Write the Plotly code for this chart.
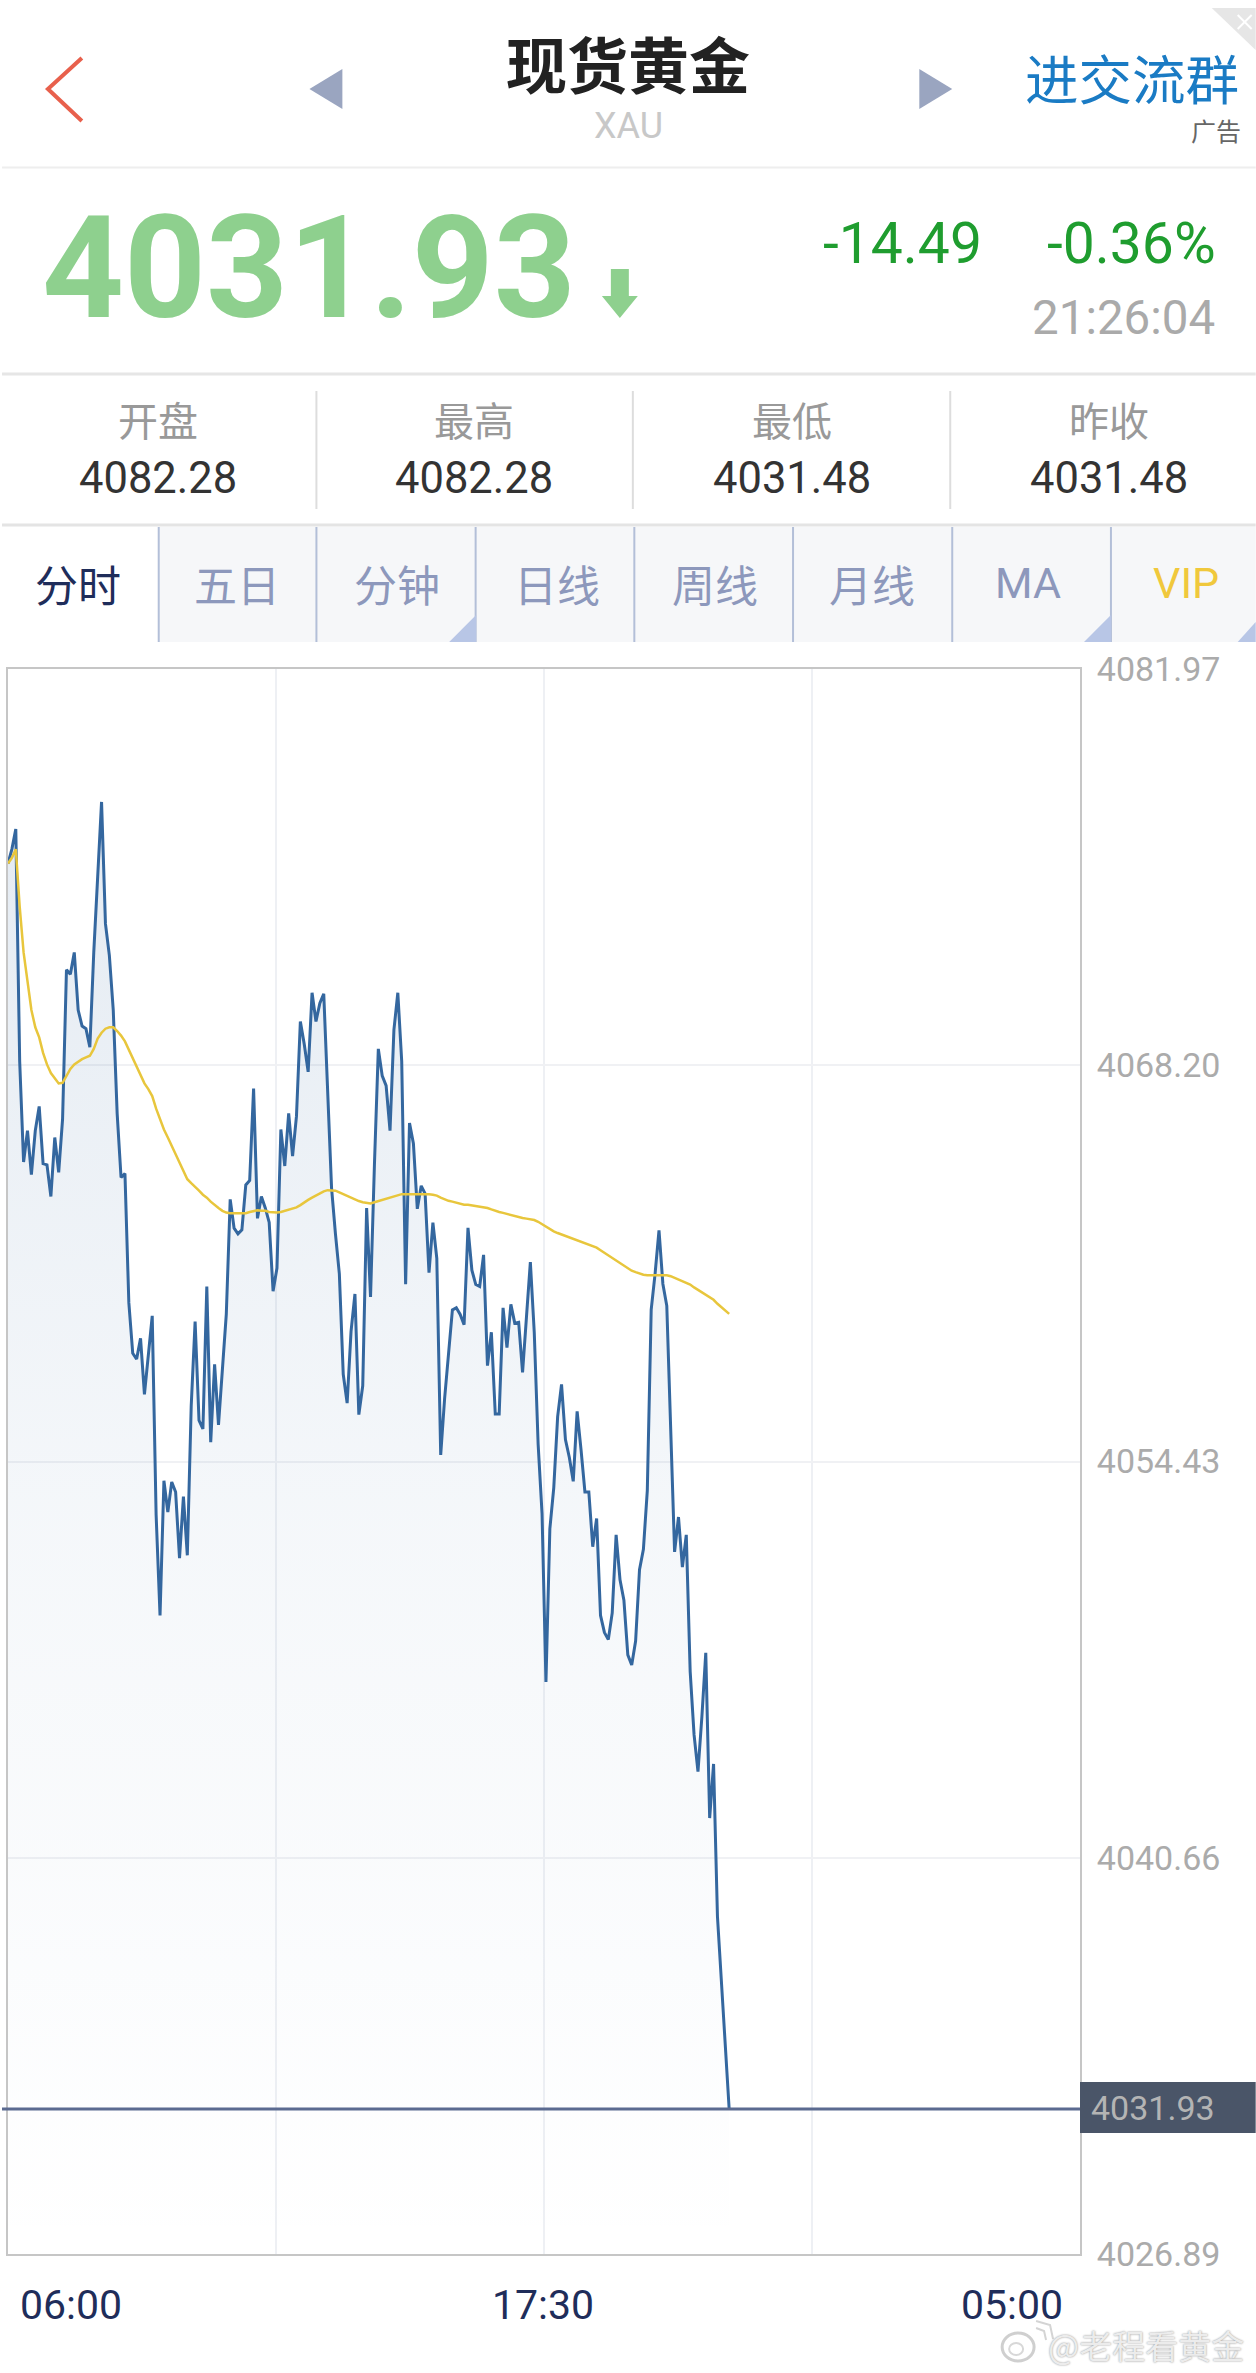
# Spot gold intraday screen: app header, quote panel, tabs and the price chart below them.

import plotly.graph_objects as go

# ---------------------------------------------------------------------------
# Chart data (one point per sampling step from 06:00)
# ---------------------------------------------------------------------------

prices = [
    4075.21, 4075.71, 4076.41, 4068.33, 4064.84, 4065.93, 4064.40, 4065.93, 4066.77, 4064.78,
    4064.74, 4063.64, 4065.69, 4064.48, 4066.33, 4071.52, 4071.36, 4072.12, 4070.12, 4069.56,
    4069.47, 4068.83, 4072.12, 4074.71, 4077.35, 4073.12, 4072.02, 4070.12, 4066.53, 4064.30,
    4064.44, 4059.95, 4058.19, 4057.99, 4058.71, 4056.76, 4058.11, 4059.49, 4052.57, 4049.08,
    4053.76, 4052.67, 4053.72, 4053.37, 4051.07, 4053.21, 4051.17, 4056.36, 4059.29, 4055.86,
    4055.56, 4060.51, 4055.10, 4057.81, 4055.70, 4057.55, 4059.55, 4063.54, 4062.54, 4062.34,
    4062.48, 4064.04, 4064.20, 4067.39, 4062.88, 4063.64, 4063.24, 4062.74, 4060.35, 4061.15,
    4065.97, 4064.70, 4066.53, 4065.04, 4066.43, 4069.72, 4068.93, 4067.97, 4070.72, 4069.72,
    4070.36, 4070.68, 4067.53, 4063.94, 4062.34, 4060.95, 4057.46, 4056.46, 4058.95, 4060.25,
    4056.06, 4057.06, 4063.24, 4060.15, 4064.74, 4068.77, 4067.83, 4067.49, 4065.93, 4069.43,
    4070.72, 4068.33, 4060.59, 4066.19, 4065.48, 4063.21, 4064.01, 4063.74, 4060.99, 4062.73,
    4061.49, 4054.66, 4056.61, 4058.21, 4059.70, 4059.77, 4059.54, 4059.18, 4062.55, 4061.08,
    4060.58, 4060.51, 4061.61, 4057.76, 4058.92, 4056.08, 4056.08, 4059.77, 4058.39, 4059.89,
    4059.24, 4059.27, 4057.53, 4059.45, 4061.36, 4058.92, 4055.02, 4052.62, 4046.77, 4052.09,
    4053.51, 4055.99, 4057.11, 4055.19, 4054.57, 4053.74, 4056.17, 4054.84, 4053.37, 4053.37,
    4051.47, 4052.45, 4049.08, 4048.49, 4048.24, 4049.17, 4051.88, 4050.32, 4049.61, 4047.71,
    4047.36, 4048.19, 4050.67, 4051.38, 4053.42, 4059.71, 4060.96, 4062.46, 4060.60, 4059.84,
    4055.55, 4051.29, 4052.50, 4050.76, 4051.88, 4047.13, 4044.93, 4043.65, 4045.56, 4047.78,
    4042.04, 4043.92, 4038.61, 4036.41, 4034.33, 4031.93,
]

average = [
    4075.21, 4075.41, 4075.71, 4073.71, 4072.12, 4071.02, 4070.12, 4069.52, 4069.17, 4068.63,
    4068.23, 4067.93, 4067.73, 4067.57, 4067.59, 4067.83, 4068.07, 4068.23, 4068.33, 4068.41,
    4068.47, 4068.53, 4068.77, 4069.13, 4069.33, 4069.47, 4069.52, 4069.52, 4069.39, 4069.23,
    4069.03, 4068.73, 4068.41, 4068.13, 4067.83, 4067.57, 4067.37, 4067.13, 4066.69, 4066.29,
    4065.97, 4065.69, 4065.40, 4065.10, 4064.78, 4064.50, 4064.24, 4064.10, 4063.98, 4063.84,
    4063.70, 4063.60, 4063.46, 4063.34, 4063.24, 4063.14, 4063.08, 4063.06, 4063.06, 4063.04,
    4063.04, 4063.06, 4063.10, 4063.14, 4063.16, 4063.14, 4063.14, 4063.10, 4063.08, 4063.08,
    4063.10, 4063.14, 4063.18, 4063.22, 4063.26, 4063.34, 4063.44, 4063.52, 4063.60, 4063.68,
    4063.76, 4063.82, 4063.86, 4063.86, 4063.84, 4063.78, 4063.72, 4063.64, 4063.60, 4063.54,
    4063.48, 4063.44, 4063.42, 4063.40, 4063.44, 4063.48, 4063.52, 4063.56, 4063.60, 4063.64,
    4063.70, 4063.72, 4063.72, 4063.72, 4063.72, 4063.72, 4063.74, 4063.74, 4063.72, 4063.70,
    4063.67, 4063.60, 4063.54, 4063.49, 4063.46, 4063.42, 4063.39, 4063.35, 4063.35, 4063.33,
    4063.31, 4063.30, 4063.28, 4063.24, 4063.19, 4063.14, 4063.10, 4063.07, 4063.03, 4062.99,
    4062.96, 4062.92, 4062.89, 4062.87, 4062.85, 4062.82, 4062.76, 4062.68, 4062.59, 4062.50,
    4062.43, 4062.37, 4062.32, 4062.27, 4062.21, 4062.18, 4062.13, 4062.07, 4062.02, 4061.97,
    4061.91, 4061.86, 4061.77, 4061.68, 4061.59, 4061.51, 4061.42, 4061.33, 4061.24, 4061.15,
    4061.06, 4061.01, 4060.96, 4060.92, 4060.90, 4060.90, 4060.90, 4060.92, 4060.92, 4060.90,
    4060.87, 4060.81, 4060.76, 4060.71, 4060.65, 4060.58, 4060.48, 4060.39, 4060.30, 4060.21,
    4060.14, 4060.05, 4059.91, 4059.80, 4059.68, 4059.56,
]

steps = list(range(len(prices)))

# y axis labels, and the session split into four equal parts on the x axis
price_ticks = [4081.97, 4068.20, 4054.43, 4040.66, 4026.89]
session_steps = 275
grid_steps = [68.75, 137.5, 206.25]
last_price = 4031.93

stat_names = ["开盘", "最高", "最低", "昨收"]
stat_values = ["4082.28", "4082.28", "4031.48", "4031.48"]
tab_names = ["分时", "五日", "分钟", "日线", "周线", "月线", "MA", "VIP"]

# ---------------------------------------------------------------------------
# Page geometry: the plot area in screen pixels, everything else hangs off it
# ---------------------------------------------------------------------------

WIDTH, HEIGHT = 1256, 2373
PLOT_L, PLOT_R, PLOT_T, PLOT_B = 6, 1080, 669, 2254

LATIN = "Roboto, 'Noto Sans', sans-serif"
CJK = "'Noto Sans CJK SC', sans-serif"
GREEN_SOFT = "#8ed08e"
GREEN = "#1f9d2f"
NAVY = "#1f2d5a"
TAB_TEXT = "#8d98bc"


def px(x):
    return (x - PLOT_L) / (PLOT_R - PLOT_L)


def py(y):
    return (PLOT_B - y) / (PLOT_B - PLOT_T)


def label(text, x, y, size, color, font=LATIN, anchor="center", **font_extra):
    fig.add_annotation(
        text=text,
        x=px(x),
        y=py(y),
        xref="paper",
        yref="paper",
        xanchor=anchor,
        yanchor="middle",
        showarrow=False,
        borderpad=0,
        font=dict(size=size, color=color, family=font, **font_extra),
    )


def rect(x0, y0, x1, y1, color):
    fig.add_shape(
        type="rect", xref="paper", yref="paper",
        x0=px(x0), x1=px(x1), y0=py(y0), y1=py(y1),
        fillcolor=color, line_width=0, layer="above",
    )


def seg(x0, y0, x1, y1, color, width=2):
    fig.add_shape(
        type="line", xref="paper", yref="paper",
        x0=px(x0), x1=px(x1), y0=py(y0), y1=py(y1),
        line=dict(color=color, width=width), layer="above",
    )


def poly(points, fill=None, line=None, width=0, close=True):
    path = "M " + " L ".join(f"{px(x):.5f} {py(y):.5f}" for x, y in points)
    fig.add_shape(
        type="path", xref="paper", yref="paper",
        path=path + (" Z" if close else ""),
        fillcolor=fill if fill else "rgba(0,0,0,0)",
        line=dict(color=line if line else "rgba(0,0,0,0)", width=width),
        layer="above",
    )


def oval(cx, cy, rx, ry, color, width=2):
    fig.add_shape(
        type="circle", xref="paper", yref="paper",
        x0=px(cx - rx), x1=px(cx + rx), y0=py(cy + ry), y1=py(cy - ry),
        line=dict(color=color, width=width), layer="above",
    )


fig = go.Figure()

# Baseline first so the price fill stops at the bottom of the chart
fig.add_trace(
    go.Scatter(
        x=steps,
        y=[price_ticks[-1]] * len(steps),
        mode="lines",
        line=dict(width=0),
        hoverinfo="skip",
    )
)
fig.add_trace(
    go.Scatter(
        x=steps,
        y=prices,
        mode="lines",
        line=dict(color="#34679f", width=3),
        fill="tonexty",
        # transparent so the grid still shows through the area
        fillgradient=dict(
            type="vertical",
            start=4077.35,
            stop=4026.89,
            colorscale=[
                [0.0, "rgba(52,103,159,0.13)"],
                [0.5, "rgba(52,103,159,0.05)"],
                [1.0, "rgba(52,103,159,0.0)"],
            ],
        ),
        name="现货黄金",
    )
)
fig.add_trace(
    go.Scatter(
        x=steps,
        y=average,
        mode="lines",
        line=dict(color="#e8c63c", width=2.5),
        name="均线",
    )
)

fig.update_layout(
    width=WIDTH,
    height=HEIGHT,
    margin=dict(l=PLOT_L, r=WIDTH - PLOT_R, t=PLOT_T, b=HEIGHT - PLOT_B, pad=0),
    paper_bgcolor="white",
    plot_bgcolor="white",
    showlegend=False,
)
fig.update_xaxes(
    range=[0, session_steps],
    tickvals=grid_steps,
    showticklabels=False,
    ticks="",
    showgrid=True,
    gridcolor="#eef0f4",
    gridwidth=2,
    zeroline=False,
    showline=True,
    mirror=True,
    linecolor="#c6c6c6",
    linewidth=2,
)
fig.update_yaxes(
    range=[price_ticks[-1], price_ticks[0]],
    side="right",
    tickvals=price_ticks,
    ticktext=[f"{p:.2f}" for p in price_ticks],
    tickfont=dict(size=34, color="#ababab", family=LATIN),
    ticks="",
    ticklabelstandoff=8,
    showgrid=True,
    gridcolor="#f0f1f4",
    gridwidth=2,
    zeroline=False,
    showline=True,
    mirror=True,
    linecolor="#c6c6c6",
    linewidth=2,
)

# Current price line and its badge
fig.add_shape(
    type="line", xref="paper", yref="y",
    x0=px(0), x1=1, y0=last_price, y1=last_price,
    line=dict(color="#5b6a90", width=3), layer="above",
)
rect(PLOT_R, 2082, WIDTH, 2133, "#4a5568")
label(f"{last_price:.2f}", 1090, 2108, 34, "#b4b4b4", anchor="left")

# Time labels
label("06:00", 17, 2305, 41, NAVY, anchor="left")
label("17:30", 542, 2305, 41, NAVY)
label("05:00", 1064, 2305, 41, NAVY, anchor="right")

# Header bar
poly([(80, 58), (46, 89), (80, 121)], line="#e8604c", width=4, close=False)
poly([(341, 69), (308, 89), (341, 109)], fill="#9aa5c0")
poly([(919, 69), (952, 89), (919, 109)], fill="#9aa5c0")
label("XAU", 628, 126, 36, "#c8c8c8")
label("现货黄金", 627, 63, 61, "#222222", font=CJK, weight=700)
label("进交流群", 1132, 76, 53.5, "#1a7bc4", font=CJK)
label("广告", 1216, 130, 25, "#666666", font=CJK)
poly([(1212, 8), (1256, 8), (1256, 50)], fill="#e6e6e6")
seg(1238, 15, 1252, 29, "#ffffff", 2)
seg(1238, 29, 1252, 15, "#ffffff", 2)
seg(0, 167.5, WIDTH, 167.5, "#eeeeee", 2)

# Quote panel
label("4031.93", 39, 268, 143, GREEN_SOFT, anchor="left", weight=700)
poly(
    [(610, 269), (628, 269), (628, 296), (637, 296), (619, 318), (601, 296), (610, 296)],
    fill=GREEN_SOFT,
)
label("-14.49", 983, 243, 57, GREEN, anchor="right")
label("-0.36%", 1217, 243, 57, GREEN, anchor="right")
label("21:26:04", 1216, 318, 47.5, "#aaaaaa", anchor="right")
seg(0, 374, WIDTH, 374, "#e6e6e6", 3)

# Open / high / low / previous close
stat_centres = [156, 473, 791, 1109]
for name, value, cx in zip(stat_names, stat_values, stat_centres):
    label(name, cx, 419, 40, "#999999", font=CJK)
    label(value, cx, 478, 43.5, "#333333")
for x in [315, 632, 950]:
    seg(x, 391, x, 509, "#dddddd", 2)
seg(0, 525, WIDTH, 525, "#e4e4e4", 3)

# Tab strip
rect(157, 527, WIDTH, 642, "#f6f7f9")
for x in [157, 315, 474.5, 633.5, 792.5, 952, 1111]:
    seg(x, 527, x, 642, "#b3bfd8", 2)
poly([(475, 615), (475, 642), (448, 642)], fill="#b8c6e6")
poly([(1111, 615), (1111, 642), (1084, 642)], fill="#b8c6e6")
poly([(1256, 622), (1256, 642), (1238, 642)], fill="#b8c6e6")
tab_centres = [76, 235, 396, 556, 714, 872, 1028, 1186]
tab_colors = [NAVY] + [TAB_TEXT] * 6 + ["#f0c83c"]
for name, cx, color in zip(tab_names, tab_centres, tab_colors):
    label(name, cx, 583, 43, color, font=LATIN if name.isascii() else CJK)

# Watermark
oval(1018, 2347, 16, 14, "#cfcfcf", 3)
oval(1016, 2349, 7, 6, "#d8d8d8", 2)
poly([(1036, 2328), (1044, 2331), (1046, 2340)], line="#d4d4d4", width=2, close=False)
poly([(1036, 2321), (1050, 2325), (1053, 2339)], line="#d4d4d4", width=2, close=False)
label(
    "@老程看黄金", 1245, 2345, 33, "#ececec", font=CJK, anchor="right",
    shadow="0 0 2px #8a8a8a",
)

fig.write_html(
    "out.html",
    config={"displayModeBar": False},
    post_script="document.body.style.margin='0';document.body.style.overflow='hidden';",
)
